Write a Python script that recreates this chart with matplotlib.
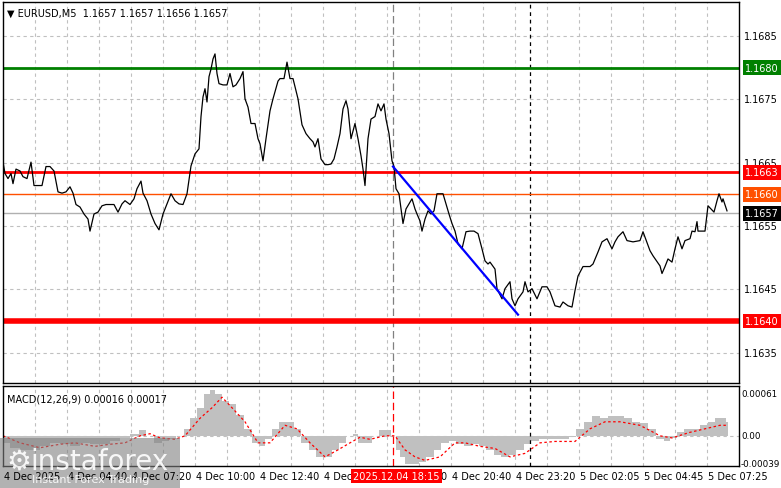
import matplotlib.pyplot as plt
from matplotlib.patches import Rectangle

# time axis in half-bar units (1 unit = 2.5 min), price data
t = [3, 5, 8, 11, 13, 16, 20, 23, 27, 31, 34, 38, 42, 46, 50, 54, 58, 62, 66, 70, 73, 76, 80, 84, 88, 90,
     94, 98, 102, 106, 110, 114, 118, 122, 125, 130, 134, 137, 141, 143, 147, 151, 155, 159, 163, 167, 171,
     175, 179, 183, 187, 191, 195, 199, 201, 203, 205, 207, 209, 211, 213, 215, 217, 219, 223, 227, 230, 233,
     236, 240, 243, 245, 248, 251, 255, 258, 260, 263, 266, 270, 273, 275, 278, 280, 284, 287, 290, 293, 298,
     302, 306, 310, 313, 315, 318, 321, 325, 328, 331, 334, 337, 340, 343, 346, 348, 351, 355, 358, 361, 363,
     365, 368, 371, 375, 378, 381, 384, 386, 389, 392, 394, 396, 399, 401, 403, 406, 409, 412, 415, 417, 420,
     422, 425, 428, 431, 434, 437, 440, 443, 446, 449, 452, 455, 458, 462, 466, 470, 474, 478, 482, 485, 488,
     490, 495, 497, 502, 505, 510, 512, 515, 518, 523, 525, 528, 532, 537, 542, 547, 550, 555, 560, 563, 568,
     572, 575, 578, 583, 590, 593, 598, 602, 607, 612, 615, 618, 623, 627, 633, 640, 643, 650, 653, 660, 662,
     665, 668, 672, 675, 678, 682, 685, 690, 692, 695, 697, 698, 705, 708, 714, 717, 719, 722, 723, 727]
close = [1.16651, 1.16633, 1.16625, 1.16633, 1.16617, 1.16640, 1.16637, 1.16628, 1.16625, 1.16651, 1.16614,
         1.16614, 1.16614, 1.16644, 1.16644, 1.16637, 1.16604, 1.16602, 1.16604, 1.16612, 1.16602, 1.16584,
         1.16580, 1.16569, 1.16561, 1.16542, 1.16569, 1.16572, 1.16582, 1.16584, 1.16584, 1.16584, 1.16572,
         1.16585, 1.16590, 1.16584, 1.16593, 1.16609, 1.16621, 1.16602, 1.16590, 1.16569, 1.16554, 1.16544,
         1.16569, 1.16585, 1.16601, 1.16590, 1.16585, 1.16584, 1.16601, 1.16645, 1.16664, 1.16672, 1.16723,
         1.16754, 1.16767, 1.16746, 1.16786, 1.16798, 1.16814, 1.16822, 1.16791, 1.16775, 1.16773, 1.16773,
         1.16791, 1.16770, 1.16773, 1.16783, 1.16794, 1.16751, 1.16738, 1.16712, 1.16712, 1.16688, 1.16680,
         1.16653, 1.16688, 1.16732, 1.16751, 1.16762, 1.16779, 1.16783, 1.16783, 1.16809, 1.16783, 1.16783,
         1.16751, 1.16710, 1.16696, 1.16688, 1.16683, 1.16675, 1.16688, 1.16656, 1.16647, 1.16647, 1.16648,
         1.16656, 1.16675, 1.16696, 1.16735, 1.16748, 1.16735, 1.16688, 1.16712, 1.16688, 1.16661, 1.16640,
         1.16614, 1.16688, 1.16719, 1.16723, 1.16743, 1.16732, 1.16743, 1.16719, 1.16696, 1.16653, 1.16644,
         1.16609, 1.16601, 1.16577, 1.16554, 1.16577, 1.16585, 1.16593, 1.16577, 1.16569, 1.16558, 1.16542,
         1.16561, 1.16574, 1.16569, 1.16574, 1.16601, 1.16601, 1.16601, 1.16585, 1.16569, 1.16554, 1.16542,
         1.16522, 1.16514, 1.16541, 1.16542, 1.16542, 1.16538, 1.16514, 1.16495, 1.16490, 1.16493, 1.16482,
         1.16451, 1.16435, 1.16451, 1.16462, 1.16435, 1.16424, 1.16435, 1.16446, 1.16462, 1.16446, 1.16451,
         1.16435, 1.16454, 1.16454, 1.16446, 1.16424, 1.16422, 1.16430, 1.16424, 1.16422, 1.16448, 1.16471,
         1.16486, 1.16486, 1.16490, 1.16509, 1.16525, 1.16530, 1.16514, 1.16525, 1.16533, 1.16541, 1.16527,
         1.16525, 1.16527, 1.16541, 1.16511, 1.16503, 1.16487, 1.16475, 1.16486, 1.16498, 1.16493, 1.16514,
         1.16533, 1.16514, 1.16527, 1.16530, 1.16542, 1.16541, 1.16557, 1.16542, 1.16542, 1.16582, 1.16572,
         1.16590, 1.16601, 1.16588, 1.16593, 1.16574]

# MACD histogram and signal
macd_t = [3, 5, 15, 25, 35, 45, 55, 65, 75, 85, 95, 105, 115, 125, 135, 142, 150, 158, 165, 172, 180, 187, 193,
          200, 207, 212, 218, 225, 232, 240, 248, 255, 262, 268, 275, 282, 290, 297, 305, 312, 320, 328, 335,
          342, 350, 355, 360, 368, 375, 382, 388, 393, 398, 402, 408, 415, 422, 430, 437, 445, 452, 460, 468,
          475, 482, 490, 497, 505, 512, 520, 527, 535, 542, 550, 557, 565, 572, 580, 588, 596, 604, 612, 620,
          628, 636, 644, 652, 660, 667, 673, 680, 688, 696, 704, 712, 718, 724, 728]
macd_hist = [0.0, -0.0001, -0.00018, -0.0002, -0.0002, -0.00015, -0.0001, -0.00012, -0.00015, -0.0001,
             -0.00012, -0.00012, -0.00008, -0.00003, 0.00003, 0.00008, 0.0, -0.0001, -0.00008, -0.00004, 0.0,
             0.0001, 0.00025, 0.0004, 0.0006, 0.00066, 0.0006, 0.0005, 0.00045, 0.0003, 0.0001, -0.0001,
             -0.00015, -0.00005, 0.0001, 0.0002, 0.0002, 0.0001, -0.0001, -0.0002, -0.0003, -0.0003, -0.0002,
             -0.0001, 0.0, 0.00003, -0.0001, -0.0001, 0.0, 0.00008, 0.00008, 0.0, -0.0002, -0.0003, -0.0004,
             -0.0004, -0.00038, -0.0003, -0.0002, -0.0001, -0.00008, -0.00012, -0.00015, -0.00012, -0.00015,
             -0.0002, -0.00027, -0.0003, -0.00028, -0.0002, -0.00012, -0.00008, -0.00005, -0.00005, -0.00005,
             -0.00005, -0.00002, 0.0001, 0.0002, 0.00028, 0.00025, 0.00028, 0.00028, 0.00025, 0.0002, 0.00018,
             0.0001, -0.00005, -0.00008, -0.00003, 0.00005, 0.0001, 0.0001, 0.00015, 0.0002, 0.00025, 0.00025,
             0.0002]
sig_t = [3, 20, 40, 60, 75, 95, 110, 125, 140, 150, 160, 175, 185, 200, 212, 222, 232, 245, 258, 270, 285, 297,
         310, 325, 338, 350, 360, 370, 385, 395, 405, 415, 425, 440, 455, 465, 480, 495, 510, 525, 540, 555,
         575, 590, 605, 620, 640, 660, 672, 690, 705, 720, 728]
signal = [0.0, -0.0001, -0.00017, -0.00012, -0.0001, -0.00015, -0.00012, -0.0001, 0.0, 0.00003, -0.00003,
          -0.00005, 0.0, 0.00025, 0.0004, 0.00055, 0.0004, 0.0002, -0.0001, -0.0001, 0.00015, 0.0001, -0.0001,
          -0.0003, -0.0002, -0.0001, -0.00002, -0.00005, 0.0, 0.0, -0.0002, -0.0003, -0.00035, -0.0003, -0.0001,
          -0.0001, -0.00015, -0.00018, -0.0003, -0.00025, -0.0001, -0.00008, -0.00008, 0.0001, 0.0002, 0.0002,
          0.00015, 0.0, -0.00003, 0.00005, 0.0001, 0.00015, 0.00015]

tick_pos = [3, 67, 131, 195, 259, 323, 387, 451, 515, 579, 643, 707]
tick_lab = ['4 Dec 2025', '4 Dec 04:40', '4 Dec 07:20', '4 Dec 10:00', '4 Dec 12:40', '4 Dec 15:20',
            '4 Dec 18:00', '4 Dec 20:40', '4 Dec 23:20', '5 Dec 02:05', '5 Dec 04:45', '5 Dec 07:25']
price_ticks = [1.1685, 1.1675, 1.1665, 1.1655, 1.1645, 1.1635]
levels = [(1.1680, 'green', 2, '#008000'), (1.16635, 'red', 2, '#ff0000'),
          (1.1660, '#ff5000', 1, '#ff5000'), (1.1640, 'red', 4, '#ff0000')]
level_lab = ['1.1680', '1.1663', '1.1660', '1.1640']
last_price = 1.1657
trend_t = [393, 518]
trend_p = [1.16644, 1.16410]
cursor_t = 393
vline_t = 530
macd_ticks = [0.00061, 0.0, -0.00039]
macd_tick_lab = ['0.00061', '0.00', '-0.00039']

W, H = 781, 489
fig = plt.figure(figsize=(W / 100, H / 100), dpi=100)
plt.rcParams['font.family'] = ['DejaVu Sans']
FS = 7

def fx(px):
    return px / W

def fy(py):
    return 1 - py / H

ax = fig.add_axes([fx(3), fy(384), fx(739 - 3), (384 - 3) / H])
ax2 = fig.add_axes([fx(3), fy(467), fx(739 - 3), (467 - 387) / H])
for a in (ax, ax2):
    a.set_xlim(3, 739)
    for s in a.spines.values():
        s.set_color('black')
        s.set_linewidth(1)
    a.set_xticks([])
    a.set_yticks([])
    for k in range(1, 23):
        a.axvline(3 + k * 32, color='#c0c0c0', ls=(0, (3, 3)), lw=0.8, zorder=0)

ax.set_ylim(1.16302, 1.16904)
for p in price_ticks:
    ax.axhline(p, color='#c0c0c0', ls=(0, (3, 3)), lw=0.8, zorder=0)
    ax.annotate(f'{p:.4f}', (1, p), xycoords=('axes fraction', 'data'), xytext=(5, 0),
                textcoords='offset pixels', fontsize=FS, va='center')

ax.axhline(last_price, color='#b0b0b0', lw=1, zorder=1)
for (p, c, lw, bc), lab in zip(levels, level_lab):
    ax.axhline(p, color=c, lw=lw, zorder=2)
    ax.annotate(lab, (1, p), xycoords=('axes fraction', 'data'), xytext=(6, 0), textcoords='offset pixels',
                fontsize=FS, va='center', color='white',
                bbox=dict(boxstyle='square,pad=0.25', fc=bc, ec='none'))
ax.annotate(f'{last_price:.4f}', (1, last_price), xycoords=('axes fraction', 'data'), xytext=(6, 0),
            textcoords='offset pixels', fontsize=FS, va='center', color='white',
            bbox=dict(boxstyle='square,pad=0.25', fc='black', ec='none'))

ax.plot(t, close, color='black', lw=0.9, zorder=3)
ax.plot(trend_t, trend_p, color='#0000ff', lw=1.6, zorder=4)
ax.axvline(cursor_t, color='#808080', ls=(0, (6, 3)), lw=0.9, zorder=1)
ax.axvline(vline_t, color='black', ls=(0, (3, 3)), lw=0.9, zorder=1)
ax.text(0.005, 0.985, '\u25BC EURUSD,M5  1.1657 1.1657 1.1656 1.1657', transform=ax.transAxes,
        fontsize=FS, va='top')

ax2.set_ylim(-0.00043, 0.00071)
ax2.axhline(0, color='#c0c0c0', ls=(0, (3, 3)), lw=0.8, zorder=0)
ax2.fill_between(macd_t, macd_hist, 0, step='mid', color='#c0c0c0', lw=0, zorder=1)
ax2.plot(sig_t, signal, color='red', ls=(0, (2, 2)), lw=0.9, zorder=2)
ax2.axvline(cursor_t, color='red', ls=(0, (6, 3)), lw=0.9)
ax2.axvline(vline_t, color='black', ls=(0, (3, 3)), lw=0.9)
ax2.text(0.005, 0.9, 'MACD(12,26,9) 0.00016 0.00017', transform=ax2.transAxes, fontsize=FS, va='top')
for v, lab in zip(macd_ticks, macd_tick_lab):
    ax2.annotate(lab, (1, v), xycoords=('axes fraction', 'data'), xytext=(2, 0),
                 textcoords='offset pixels', fontsize=FS - 0.7, va='center')

for p, lab in zip(tick_pos, tick_lab):
    fig.text(fx(p + 1), fy(477), lab, fontsize=FS, va='center')
fig.text(fx(393 - 40), fy(477), '2025.12.04 18:15', fontsize=FS, va='center', color='white',
         bbox=dict(boxstyle='square,pad=0.25', fc='#ff0000', ec='none'))

# watermark
fig.patches.append(Rectangle((fx(0), fy(489)), fx(180), 50 / H, transform=fig.transFigure,
                             fc='#808080', alpha=0.6, ec='none'))
fig.text(fx(30), fy(462), 'instaforex', fontsize=20, color='white', va='center', alpha=0.9)
fig.text(fx(32), fy(480), 'Instant Forex Trading', fontsize=8, color='white', va='center', alpha=0.9)
fig.text(fx(6), fy(462), '\u2699', fontsize=20, color='white', va='center', alpha=0.9)

fig.savefig('out.png', dpi=100, facecolor='white')
